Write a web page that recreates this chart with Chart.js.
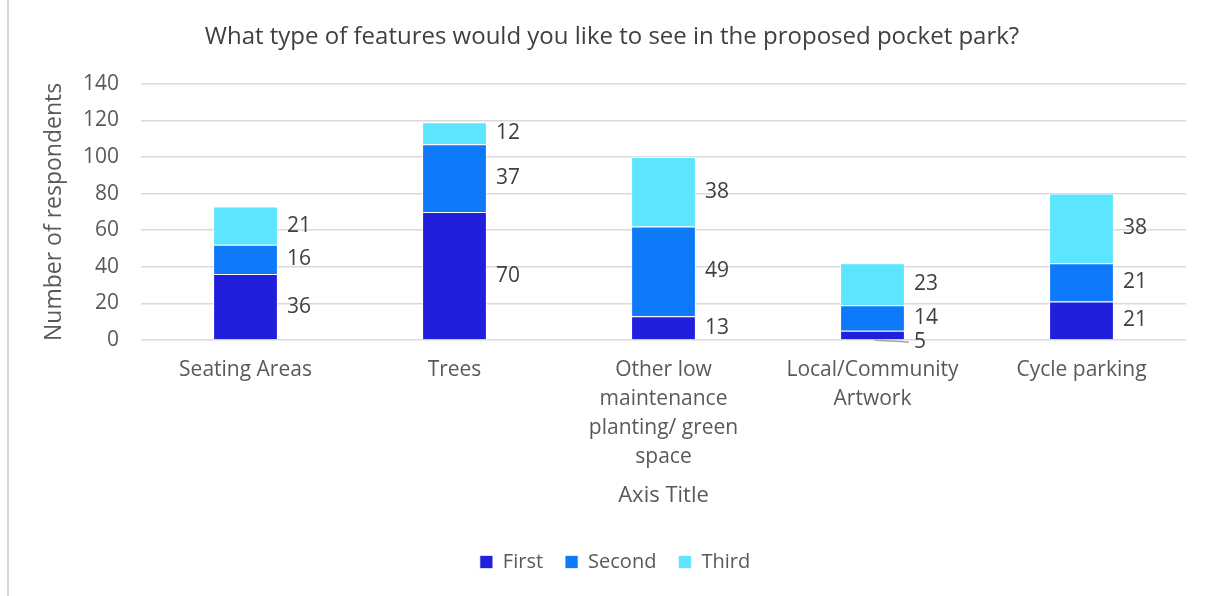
<!DOCTYPE html>
<html>
<head>
<meta charset="utf-8">
<script src="https://cdn.jsdelivr.net/npm/chart.js@4.4.1/dist/chart.umd.min.js"></script>
<style>
    html, body { margin: 0; padding: 0; background: #ffffff; }
    #wrap { position: relative; width: 1207px; height: 596px; }
    #edge { position: absolute; left: 7px; top: 0; width: 2px; height: 596px; background: #d9d9d9; }
</style>
</head>
<body>
<div id="wrap">
    <canvas id="featuresChart" width="1207" height="596"></canvas>
    <div id="edge"></div>
</div>
<script>
// Survey answers, ranked choices per feature
const categories = [
    'Seating Areas',
    'Trees',
    ['Other low', 'maintenance', 'planting/ green', 'space'],
    ['Local/Community', 'Artwork'],
    'Cycle parking'
];

const firstChoice  = [36, 70, 13, 5, 21];
const secondChoice = [16, 37, 49, 14, 21];
const thirdChoice  = [21, 12, 38, 23, 38];

const yTicks = [0, 20, 40, 60, 80, 100, 120, 140];

const FONT = "'Open Sans', 'Noto Sans', sans-serif";

// ======================= //
//   VALUE LABELS PLUGIN   //
// ======================= //
const valueLabels = {
    id: 'valueLabels',
    afterLayout(chart) {
        // title and legend sit a little right of the chart's centre
        chart.titleBlock.left += 15;
        chart.titleBlock.right += 15;
        chart.legend.left += 18;
        chart.legend.right += 18;
    },
    afterDatasetsDraw(chart) {
        const ctx = chart.ctx;
        ctx.save();
        ctx.font = '21px ' + FONT;
        ctx.fillStyle = '#404040';
        ctx.textAlign = 'left';
        ctx.textBaseline = 'middle';
        chart.data.datasets.forEach((ds, di) => {
            const meta = chart.getDatasetMeta(di);
            meta.data.forEach((bar, i) => {
                const right = bar.x + bar.width / 2;
                let y = (bar.y + bar.base) / 2;
                const tall = Math.abs(bar.base - bar.y);
                if (tall < 15) {
                    // too thin for a label: push it below with a leader line
                    y = bar.base + 3;
                    ctx.strokeStyle = '#a6a6a6';
                    ctx.lineWidth = 1.5;
                    ctx.beginPath();
                    ctx.moveTo(bar.x + 2, bar.base + 1);
                    ctx.quadraticCurveTo(right - 5, bar.base + 2, right + 4, y);
                    ctx.stroke();
                }
                ctx.fillText(ds.data[i], right + 9, y);
            });
        });
        ctx.restore();
    }
};

const ctx = document.getElementById('featuresChart').getContext('2d');
const featuresChart = new Chart(ctx, {
    type: 'bar',
    data: {
        labels: categories,
        datasets: [
            { label: 'First',  data: firstChoice,  backgroundColor: '#211edc' },
            { label: 'Second', data: secondChoice, backgroundColor: '#0e7afa' },
            { label: 'Third',  data: thirdChoice,  backgroundColor: '#5be5fe' }
        ].map(ds => Object.assign(ds, {
            borderColor: 'rgba(255,255,255,0.7)',
            borderWidth: 1,
            barPercentage: 0.31,
            categoryPercentage: 1
        }))
    },
    options: {
        responsive: false,
        animation: false,
        layout: { padding: { left: 8, right: 21, top: 0, bottom: 14 } },
        plugins: {
            title: {
                display: true,
                text: 'What type of features would you like to see in the proposed pocket park?',
                color: '#404040',
                font: { family: FONT, size: 24, weight: 'normal' },
                padding: { top: 23, bottom: 32 }
            },
            legend: {
                position: 'bottom',
                labels: {
                    color: '#595959',
                    font: { family: FONT, size: 20 },
                    boxWidth: 13,
                    boxHeight: 13,
                    padding: 22
                }
            },
            tooltip: { enabled: false }
        },
        scales: {
            x: {
                stacked: true,
                grid: { display: false, drawTicks: false },
                border: { display: false },
                ticks: {
                    color: '#595959',
                    font: { family: FONT, size: 21, lineHeight: 1.38 },
                    padding: 16,
                    maxRotation: 0,
                    autoSkip: false
                },
                title: {
                    display: true,
                    text: 'Axis Title',
                    color: '#595959',
                    font: { family: FONT, size: 22 },
                    padding: { top: 4, bottom: 21 }
                },
                afterFit(scale) { scale.height = 190; }
            },
            y: {
                stacked: true,
                min: yTicks[0],
                max: yTicks[yTicks.length - 1],
                afterBuildTicks(scale) {
                    scale.ticks = yTicks.map(v => ({ value: v }));
                },
                grid: { color: '#d9d9d9', lineWidth: 1.5, drawTicks: false },
                border: { display: false },
                ticks: {
                    color: '#595959',
                    font: { family: FONT, size: 21 },
                    padding: 22
                },
                title: {
                    display: true,
                    text: 'Number of respondents',
                    color: '#595959',
                    font: { family: FONT, size: 23 },
                    padding: { top: 33, bottom: 0 }
                },
                afterFit(scale) { scale.width = 133; }
            }
        }
    },
    plugins: [valueLabels]
});
</script>
</body>
</html>
